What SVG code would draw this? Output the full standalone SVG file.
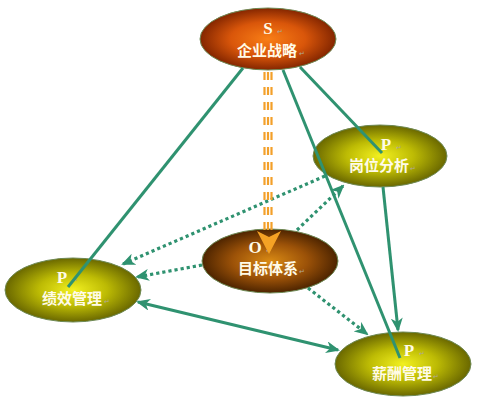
<svg xmlns="http://www.w3.org/2000/svg" width="482" height="400" viewBox="0 0 482 400">
<style>
.bg{fill:#ffffff}
.ell{stroke:#6f8a55;stroke-width:1}
.let{font-family:"Liberation Serif","Noto Serif",serif;font-weight:bold;font-size:17px;fill:#fffbe8;text-anchor:middle}
.cjk{font-family:"Noto Sans CJK SC","Noto Sans",sans-serif;font-weight:bold;font-size:15px;fill:#fffbe8;text-anchor:middle}
.pm{font-family:"DejaVu Sans",sans-serif;font-size:7px;fill:#b0a898}
.ln{stroke:#2f9270;stroke-width:3;fill:none}
.dot{stroke:#2f9270;stroke-width:3.2;fill:none;stroke-dasharray:3.2 3}
.or{stroke:#f3a02a;stroke-width:2.2;fill:none;stroke-dasharray:8 7}
</style>
<defs>
<radialGradient id="gS" cx="50%" cy="50%" r="50%">
<stop offset="0" stop-color="#f97e16"/>
<stop offset="0.55" stop-color="#d9560a"/>
<stop offset="1" stop-color="#842600"/>
</radialGradient>
<radialGradient id="gO" cx="50%" cy="50%" r="50%">
<stop offset="0" stop-color="#d98a14"/>
<stop offset="0.55" stop-color="#9c5208"/>
<stop offset="1" stop-color="#4d2400"/>
</radialGradient>
<radialGradient id="gP" cx="50%" cy="50%" r="50%">
<stop offset="0" stop-color="#f2f020"/>
<stop offset="0.5" stop-color="#bdbb04"/>
<stop offset="1" stop-color="#6a6800"/>
</radialGradient>
<marker id="ar" viewBox="0 0 14 12" refX="12" refY="6" markerWidth="14" markerHeight="12" markerUnits="userSpaceOnUse" orient="auto-start-reverse">
<path d="M0,0 L14,6 L0,12 L4,6 z" fill="#2f9270"/>
</marker>
</defs>
<rect class="bg" x="0" y="0" width="482" height="400"/>

<g id="node-S">
<ellipse class="ell" cx="268" cy="39" rx="68" ry="31" fill="url(#gS)"/>
<text class="let" x="268" y="34">S</text><text class="pm" x="277" y="34">↵</text>
<text class="cjk" x="267" y="56">企业战略</text><text class="pm" x="299" y="56">↵</text>
</g>
<g id="node-O">
<ellipse class="ell" cx="270" cy="261" rx="68" ry="32" fill="url(#gO)"/>
<text class="let" x="255" y="253">O</text><text class="pm" x="266" y="253">↵</text>
<text class="cjk" x="268" y="274">目标体系</text><text class="pm" x="299" y="274">↵</text>
</g>
<g id="node-P1">
<ellipse class="ell" cx="380" cy="156" rx="67" ry="31" fill="url(#gP)"/>
<text class="let" x="386" y="150">P</text><text class="pm" x="396" y="150">↵</text>
<text class="cjk" x="379" y="171">岗位分析</text><text class="pm" x="410" y="171">↵</text>
</g>
<g id="node-P2">
<ellipse class="ell" cx="73" cy="290" rx="68" ry="32" fill="url(#gP)"/>
<text class="let" x="62" y="283">P</text><text class="pm" x="72" y="283">↵</text>
<text class="cjk" x="72" y="304">绩效管理</text><text class="pm" x="104" y="304">↵</text>
</g>
<g id="node-P3">
<ellipse class="ell" cx="403" cy="364" rx="68" ry="32" fill="url(#gP)"/>
<text class="let" x="409" y="356">P</text><text class="pm" x="419" y="356">↵</text>
<text class="cjk" x="402" y="379">薪酬管理</text><text class="pm" x="433" y="379">↵</text>
</g>

<g id="connectors">
<line class="ln" x1="243" y1="68" x2="68" y2="287"/>
<line class="ln" x1="300" y1="67" x2="382" y2="153"/>
<line class="ln" x1="283" y1="70" x2="400" y2="358"/>
<line class="ln" x1="383" y1="187" x2="398" y2="330" marker-end="url(#ar)"/>
<line class="ln" x1="138" y1="302" x2="338" y2="350" marker-start="url(#ar)" marker-end="url(#ar)"/>
<line class="dot" x1="325" y1="176" x2="123" y2="264" marker-end="url(#ar)"/>
<line class="dot" x1="297" y1="230" x2="343" y2="186" marker-end="url(#ar)"/>
<line class="dot" x1="202" y1="265" x2="137" y2="277" marker-end="url(#ar)"/>
<line class="dot" x1="308" y1="288" x2="367" y2="334" marker-end="url(#ar)"/>
<line class="or" x1="264.5" y1="72" x2="264.5" y2="236"/>
<line class="or" x1="268" y1="72" x2="268" y2="236"/>
<line class="or" x1="271.5" y1="72" x2="271.5" y2="236"/>
<polygon points="257,231 269,237 281,231 269,254" fill="#f5a224"/>
</g>
</svg>
